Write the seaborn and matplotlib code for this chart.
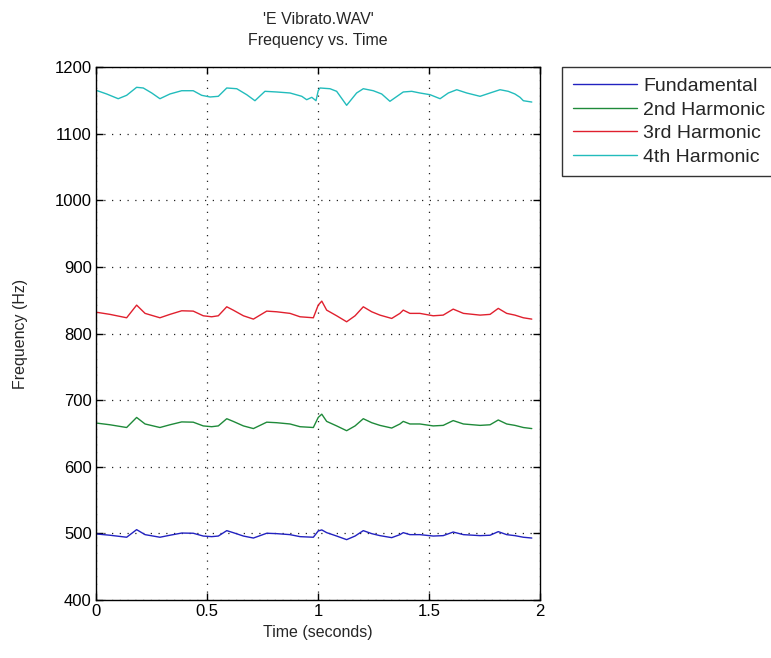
import numpy as np
import pandas as pd
import matplotlib
matplotlib.use("Agg")
import matplotlib.pyplot as plt
import seaborn as sns

# ---------------- data ----------------
t_4th = [0.006, 0.048, 0.100, 0.138, 0.183, 0.213, 0.251, 0.288, 0.333, 0.386,
         0.438, 0.476, 0.514, 0.551, 0.589, 0.634, 0.679, 0.716, 0.761, 0.814,
         0.874, 0.927, 0.949, 0.972, 0.991, 1.001, 1.009, 1.054, 1.084, 1.129,
         1.174, 1.204, 1.249, 1.287, 1.324, 1.384, 1.422, 1.459, 1.505, 1.550,
         1.587, 1.625, 1.670, 1.730, 1.775, 1.820, 1.857, 1.887, 1.910, 1.925,
         1.963]
f_4th = [1164.4, 1159.5, 1152.4, 1157.5, 1169.5, 1168.5, 1161.0, 1152.4, 1159.5, 1164.4,
         1164.4, 1157.5, 1155.0, 1156.0, 1168.5, 1167.4, 1158.4, 1149.4, 1163.5, 1162.5,
         1161.0, 1156.0, 1150.9, 1154.5, 1149.4, 1164.4, 1168.5, 1167.4, 1163.5, 1142.5,
         1161.0, 1167.4, 1164.4, 1159.5, 1148.5, 1162.5, 1163.5, 1161.0, 1158.4, 1152.4,
         1161.0, 1165.9, 1161.0, 1156.0, 1161.0, 1165.9, 1163.5, 1159.5, 1154.5, 1149.4,
         1147.4]

t_low = [0.006, 0.063, 0.138, 0.183, 0.221, 0.288, 0.333, 0.386, 0.438, 0.483,
         0.521, 0.551, 0.589, 0.618, 0.664, 0.709, 0.769, 0.814, 0.874, 0.919,
         0.979, 1.001, 1.017, 1.039, 1.084, 1.129, 1.167, 1.204, 1.242, 1.279,
         1.332, 1.369, 1.384, 1.414, 1.459, 1.519, 1.564, 1.609, 1.655, 1.730,
         1.775, 1.812, 1.850, 1.887, 1.925, 1.963]
f_3rd = [831.7, 828.7, 823.6, 842.6, 830.2, 823.6, 828.7, 834.1, 833.6, 826.6,
         825.1, 826.6, 840.1, 835.1, 826.6, 821.6, 833.6, 832.6, 830.2, 825.1,
         823.6, 842.6, 848.6, 835.1, 826.6, 817.6, 826.6, 840.1, 832.6, 827.6,
         822.6, 830.2, 835.1, 830.2, 830.2, 826.6, 827.6, 836.6, 830.2, 827.6,
         828.7, 837.7, 830.2, 827.6, 823.6, 821.6]
f_2nd = [665.4, 663.0, 658.9, 674.0, 664.2, 658.9, 663.0, 667.3, 666.9, 661.3,
         660.1, 661.3, 672.1, 668.1, 661.3, 657.3, 666.9, 666.1, 664.2, 660.1,
         658.9, 674.0, 678.9, 668.1, 661.3, 654.1, 661.3, 672.1, 666.1, 662.1,
         658.1, 664.2, 668.1, 664.2, 664.2, 661.3, 662.1, 669.3, 664.2, 662.1,
         663.0, 670.2, 664.2, 662.1, 658.9, 657.3]
f_fund = [499.0, 497.2, 494.2, 505.6, 498.1, 494.2, 497.2, 500.5, 500.2, 496.0,
          495.1, 496.0, 504.1, 501.1, 496.0, 493.0, 500.2, 499.6, 498.1, 495.1,
          494.2, 503.6, 505.2, 501.1, 496.0, 490.6, 496.0, 504.1, 499.6, 496.6,
          493.6, 498.1, 501.1, 498.1, 498.1, 496.0, 496.6, 502.0, 498.1, 496.6,
          497.2, 502.6, 498.1, 496.6, 494.2, 493.0]

series_names = ["Fundamental", "2nd Harmonic", "3rd Harmonic", "4th Harmonic"]
x_ticks = [0, 0.5, 1, 1.5, 2]
y_ticks = [400, 500, 600, 700, 800, 900, 1000, 1100, 1200]
x_ticklabels = ["0", "0.5", "1", "1.5", "2"]
y_ticklabels = [str(v) for v in y_ticks]

df = pd.concat([
    pd.DataFrame({"t": t_low, "f": f_fund, "s": series_names[0]}),
    pd.DataFrame({"t": t_low, "f": f_2nd, "s": series_names[1]}),
    pd.DataFrame({"t": t_low, "f": f_3rd, "s": series_names[2]}),
    pd.DataFrame({"t": t_4th, "f": f_4th, "s": series_names[3]}),
], ignore_index=True)

# ---------------- plotting ----------------
sns.set_theme(style="ticks")
plt.rcParams["font.family"] = ["Liberation Sans", "DejaVu Sans"]
plt.rcParams["font.size"] = 11.5

fig = plt.figure(figsize=(7.71, 6.58), dpi=100)
ax = fig.add_axes([96 / 771, 1 - 600 / 658, 444 / 771, 533 / 658])

palette = {"Fundamental": "#2222c0", "2nd Harmonic": "#1f8a3a",
           "3rd Harmonic": "#e0202e", "4th Harmonic": "#22bcbc"}
sns.lineplot(data=df, x="t", y="f", hue="s", hue_order=series_names,
             palette=palette, linewidth=1.0, ax=ax, sort=True, estimator=None)

ax.set_xlim(0, 2)
ax.set_ylim(400, 1200)
ax.set_xticks(x_ticks)
ax.set_xticklabels(x_ticklabels)
ax.set_yticks(y_ticks)
ax.set_yticklabels(y_ticklabels)
ax.set_xlabel("Time (seconds)", fontsize=11.5, labelpad=4)
ax.set_ylabel("Frequency (Hz)", fontsize=11.5, labelpad=19)
ax.set_title("'E Vibrato.WAV'\nFrequency vs. Time", fontsize=11.5, pad=16,
             linespacing=1.5)

for sp in ax.spines.values():
    sp.set_visible(True)
    sp.set_color("black")
    sp.set_linewidth(1.0)

ax.tick_params(direction="in", length=5, width=1.0, top=True, right=True,
               colors="black", labelsize=12, pad=3)
ax.grid(True, color="#222222", linewidth=0.9, linestyle=(0, (1.0, 5.2)))

leg = ax.legend(loc="upper left", bbox_to_anchor=(1.05, 1.0), borderaxespad=0,
                frameon=True, fancybox=False, edgecolor="black",
                handlelength=3.3, handletextpad=0.3, labelspacing=0.3,
                fontsize=14, borderpad=0.55, title=None)
leg.get_frame().set_linewidth(1.0)

fig.savefig("out.png", dpi=100, facecolor="white")
